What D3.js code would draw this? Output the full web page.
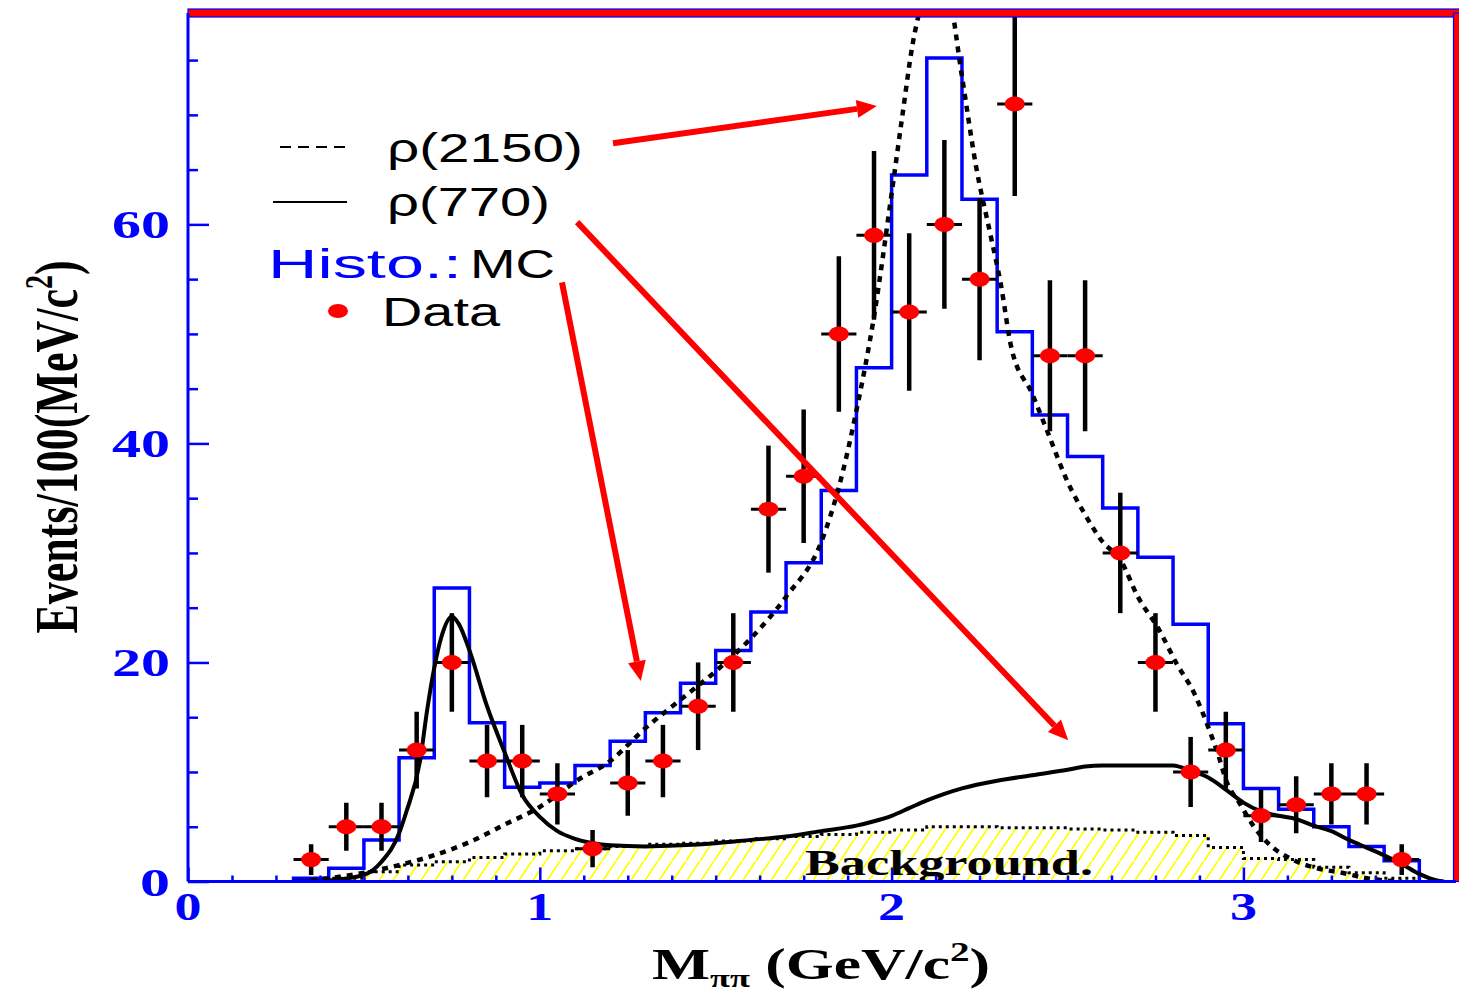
<!DOCTYPE html>
<html>
<head>
<meta charset="utf-8">
<script src="https://cdn.jsdelivr.net/npm/d3@7"></script>
<style>
  html, body { margin: 0; padding: 0; background: #fff; }
  svg { display: block; }
</style>
</head>
<body>
<div id="chart"></div>
<script>
// ---- data ----
// data points (bin centres, events, error)
const dataMass = [0.35, 0.45, 0.55, 0.65, 0.75, 0.85, 0.95, 1.05, 1.15, 1.25, 1.35, 1.45, 1.55, 1.65, 1.75, 1.85,
                  1.95, 2.05, 2.15, 2.25, 2.35, 2.45, 2.55, 2.65, 2.75, 2.85, 2.95, 3.05, 3.15, 3.25, 3.35, 3.45];
const dataEvents = [2, 5, 5, 12, 20, 11, 11, 8, 3, 9, 11, 16, 20, 34, 37, 50,
                    59, 52, 60, 55, 71, 48, 48, 30, 20, 10, 12, 6, 7, 8, 8, 2];
const dataErr = [1.4, 2.2, 2.2, 3.5, 4.5, 3.3, 3.3, 2.8, 1.7, 3.0, 3.3, 4.0, 4.5, 5.8, 6.1, 7.1,
                 7.7, 7.2, 7.7, 7.4, 8.4, 6.9, 6.9, 5.5, 4.5, 3.2, 3.5, 2.4, 2.6, 2.8, 2.8, 1.4];

// histogram bin edges (MC and background share them)
const binEdges = [0.3, 0.4, 0.5, 0.6, 0.7, 0.8, 0.9, 1.0, 1.1, 1.2, 1.3, 1.4, 1.5, 1.6, 1.7, 1.8, 1.9,
                  2.0, 2.1, 2.2, 2.3, 2.4, 2.5, 2.6, 2.7, 2.8, 2.9, 3.0, 3.1, 3.2, 3.3, 3.4, 3.5];
const mcCounts = [0.3, 1.2, 3.8, 11.3, 26.8, 14.5, 8.6, 9.0, 10.6, 12.8, 15.4, 18.1, 21.1, 24.6, 29.1, 35.7,
                  46.9, 64.5, 75.2, 62.3, 50.2, 42.6, 38.8, 34.1, 29.6, 23.5, 14.4, 8.5, 6.6, 5.0, 3.2, 1.9];
const bgCounts = [0, 0.3, 0.9, 1.5, 1.8, 2.2, 2.5, 2.8, 3.0, 3.2, 3.4, 3.5, 3.7, 3.9, 4.1, 4.3,
                  4.5, 4.7, 5.0, 5.0, 4.9, 4.9, 4.8, 4.7, 4.5, 4.2, 3.1, 2.1, 2.0, 1.3, 0.8, 0.3];

// rho(2150) dashed curve
const rho2150X = [0.35, 0.4, 0.5, 0.6, 0.7, 0.8, 0.9, 1.0, 1.05, 1.1, 1.2, 1.3, 1.4, 1.5, 1.6, 1.7, 1.8, 1.85,
                  1.9, 1.95, 2.0, 2.03, 2.06, 2.1, 2.13, 2.16, 2.2, 2.24, 2.28, 2.31, 2.34, 2.4, 2.45, 2.5,
                  2.55, 2.6, 2.65, 2.7, 2.76, 2.81, 2.86, 2.9, 2.93, 2.95, 2.99, 3.03, 3.08, 3.14, 3.21, 3.28, 3.35, 3.45];
const rho2150Y = [0.1, 0.3, 0.8, 1.5, 2.4, 3.6, 5.2, 6.8, 7.9, 9.1, 11.0, 14.0, 16.6, 19.2, 22.2, 26.0, 31.0, 36.0,
                  43.0, 51.6, 62.8, 69.8, 76.5, 81.5, 83.0, 81.5, 73.5, 65.3, 59.2, 54.6, 48.8, 44.5, 40.5, 36.5,
                  33.5, 31.0, 29.4, 26.0, 23.0, 19.9, 17.2, 14.1, 11.4, 9.3, 7.1, 5.0, 3.2, 2.0, 1.2, 0.8, 0.3, 0];

// rho(770) solid curve
const rho770X = [0.3, 0.4, 0.5, 0.55, 0.6, 0.62, 0.66, 0.68, 0.7, 0.72, 0.75, 0.77, 0.8, 0.85, 0.9, 0.95, 1.0,
                 1.05, 1.1, 1.15, 1.2, 1.3, 1.4, 1.5, 1.6, 1.7, 1.8, 1.9, 1.95, 2.0, 2.05, 2.1, 2.15, 2.2, 2.3,
                 2.4, 2.5, 2.55, 2.6, 2.7, 2.8, 2.85, 2.9, 2.95, 3.0, 3.05, 3.1, 3.15, 3.2, 3.25, 3.3, 3.35,
                 3.4, 3.45, 3.5, 3.55, 3.57];
const rho770Y = [0, 0.1, 0.6, 1.8, 4.4, 6.3, 11.1, 15.7, 19.5, 22.3, 24.2, 23.5, 21.1, 16.0, 11.8, 7.9, 5.9,
                 4.6, 3.9, 3.5, 3.3, 3.2, 3.3, 3.5, 3.8, 4.1, 4.6, 5.1, 5.5, 6.0, 6.7, 7.4, 8.0, 8.5, 9.2,
                 9.7, 10.2, 10.5, 10.6, 10.6, 10.6, 10.1, 9.5, 8.4, 7.2, 6.4, 6.0, 5.7, 5.1, 4.6, 3.8, 3.1,
                 2.4, 1.6, 0.7, 0.1, 0];

// axis ticks
const xTickLabels = [0, 1, 2, 3];
const yTickLabels = [0, 20, 40, 60];

// red annotation arrows, [x1, y1, x2, y2] in data units
const arrows = [
  [1.208, 67.4, 1.958, 70.8],
  [1.106, 60.2, 2.502, 12.9],
  [1.063, 54.7, 1.287, 18.3]
];

// ---- drawing ----
const width = 1459, height = 996;
const x = d3.scaleLinear().domain([0, 3.6]).range([188, 1454.5]);
const y = d3.scaleLinear().domain([0, 79.3]).range([881.5, 13]);

const svg = d3.select("#chart").append("svg")
  .attr("width", width)
  .attr("height", height)
  .style("background", "#fff");

const defs = svg.append("defs");
defs.append("clipPath").attr("id", "plot-clip")
  .append("rect")
  .attr("x", x(0)).attr("y", y(79.3))
  .attr("width", x(3.6) - x(0)).attr("height", y(0) - y(79.3));

// yellow hatch
const hatch = defs.append("pattern")
  .attr("id", "hatch")
  .attr("patternUnits", "userSpaceOnUse")
  .attr("width", 14).attr("height", 21);
hatch.append("path")
  .attr("d", "M-7,31.5 L21,-10.5")
  .attr("stroke", "#ffff00")
  .attr("stroke-width", 1.8);

const plot = svg.append("g").attr("clip-path", "url(#plot-clip)");

// step histogram points
function stepPoints(edges, counts) {
  const pts = [[edges[0], 0]];
  counts.forEach((c, i) => pts.push([edges[i], c]));
  pts.push([edges[edges.length - 1], counts[counts.length - 1]]);
  pts.push([edges[edges.length - 1], 0]);
  return pts;
}

const stepLine = d3.line()
  .x(d => x(d[0])).y(d => y(d[1]))
  .curve(d3.curveStepAfter);

const bgPts = stepPoints(binEdges, bgCounts);

// background hatch + dotted outline
plot.append("path")
  .datum(bgPts)
  .attr("d", d3.area().x(d => x(d[0])).y0(y(0)).y1(d => y(d[1])).curve(d3.curveStepAfter))
  .attr("fill", "url(#hatch)");

plot.append("path")
  .datum(bgPts.slice(1, -1))
  .attr("d", stepLine)
  .attr("fill", "none")
  .attr("stroke", "#000")
  .attr("stroke-width", 3)
  .attr("stroke-dasharray", "3,4");

svg.append("text")
  .attr("x", 805).attr("y", 875)
  .attr("textLength", 288).attr("lengthAdjust", "spacingAndGlyphs")
  .style("font-family", "'Liberation Serif', 'DejaVu Serif', serif")
  .style("font-weight", "bold")
  .style("font-size", "36px")
  .text("Background.");

// MC histogram
plot.append("path")
  .datum(stepPoints(binEdges, mcCounts))
  .attr("d", stepLine)
  .attr("fill", "none")
  .attr("stroke", "#0000ff")
  .attr("stroke-width", 3.5);

const smooth = d3.line()
  .x(d => x(d[0])).y(d => y(d[1]))
  .curve(d3.curveMonotoneX);

// rho(2150)
plot.append("path")
  .datum(rho2150X.map((v, i) => [v, rho2150Y[i]]))
  .attr("d", smooth)
  .attr("fill", "none")
  .attr("stroke", "#000")
  .attr("stroke-width", 4.5)
  .attr("stroke-dasharray", "6,6");

// rho(770)
plot.append("path")
  .datum(rho770X.map((v, i) => [v, rho770Y[i]]))
  .attr("d", smooth)
  .attr("fill", "none")
  .attr("stroke", "#000")
  .attr("stroke-width", 4);

// data with errors
const pts = dataMass.map((m, i) => ({ m, n: dataEvents[i], e: dataErr[i] }));
const pg = plot.append("g");
pg.selectAll("line.ey").data(pts).join("line")
  .attr("class", "ey")
  .attr("x1", d => x(d.m)).attr("x2", d => x(d.m))
  .attr("y1", d => y(d.n - d.e)).attr("y2", d => y(d.n + d.e))
  .attr("stroke", "#000").attr("stroke-width", 4.5);
pg.selectAll("line.ex").data(pts).join("line")
  .attr("class", "ex")
  .attr("x1", d => x(d.m - 0.05)).attr("x2", d => x(d.m + 0.05))
  .attr("y1", d => y(d.n)).attr("y2", d => y(d.n))
  .attr("stroke", "#000").attr("stroke-width", 3);
pg.selectAll("ellipse").data(pts).join("ellipse")
  .attr("cx", d => x(d.m)).attr("cy", d => y(d.n))
  .attr("rx", 10).attr("ry", 7.5)
  .attr("fill", "#ff0000");

// arrows
const ag = svg.append("g");
arrows.forEach(a => {
  const x1 = x(a[0]), y1 = y(a[1]), x2 = x(a[2]), y2 = y(a[3]);
  const ang = Math.atan2(y2 - y1, x2 - x1);
  const hl = 20, hw = 9;
  const bx = x2 - hl * Math.cos(ang), by = y2 - hl * Math.sin(ang);
  ag.append("line")
    .attr("x1", x1).attr("y1", y1).attr("x2", bx).attr("y2", by)
    .attr("stroke", "#ff0000").attr("stroke-width", 6);
  ag.append("path")
    .attr("d", `M${x2},${y2} L${bx + hw * Math.sin(ang)},${by - hw * Math.cos(ang)} L${bx - hw * Math.sin(ang)},${by + hw * Math.cos(ang)} Z`)
    .attr("fill", "#ff0000");
});

// legend
const sans = "'Liberation Sans', Arial, Helvetica, sans-serif";
const lg = svg.append("g").style("font-family", sans).style("font-size", "40px");
lg.append("line").attr("x1", 280).attr("x2", 347).attr("y1", 147).attr("y2", 147)
  .attr("stroke", "#000").attr("stroke-width", 2).attr("stroke-dasharray", "11,7");
lg.append("text").attr("x", 387).attr("y", 162)
  .attr("textLength", 196).attr("lengthAdjust", "spacingAndGlyphs").text("ρ(2150)");
lg.append("line").attr("x1", 273).attr("x2", 347).attr("y1", 202).attr("y2", 202)
  .attr("stroke", "#000").attr("stroke-width", 2);
lg.append("text").attr("x", 387).attr("y", 216)
  .attr("textLength", 163).attr("lengthAdjust", "spacingAndGlyphs").text("ρ(770)");
lg.append("text").attr("x", 268).attr("y", 278).attr("fill", "#0000ff")
  .attr("textLength", 194).attr("lengthAdjust", "spacingAndGlyphs").text("Histo.:");
lg.append("text").attr("x", 470).attr("y", 278)
  .attr("textLength", 85).attr("lengthAdjust", "spacingAndGlyphs").text("MC");
lg.append("ellipse").attr("cx", 338).attr("cy", 311).attr("rx", 10).attr("ry", 7)
  .attr("fill", "#ff0000");
lg.append("text").attr("x", 382).attr("y", 326)
  .attr("textLength", 118).attr("lengthAdjust", "spacingAndGlyphs").text("Data");

// frame and axes
const blue = "#0000ff";
svg.append("rect")
  .attr("x", x(0)).attr("y", 9).attr("width", 1461 - x(0)).attr("height", 8)
  .attr("fill", "#ff0000").attr("stroke", blue).attr("stroke-width", 1.2);
svg.append("rect")
  .attr("x", 1453.5).attr("y", 13).attr("width", 8).attr("height", y(0) - 13)
  .attr("fill", "#ff0000").attr("stroke", blue).attr("stroke-width", 1.2);

const yAxis = d3.axisRight(y)
  .tickValues(d3.range(0, 79, 5))
  .tickSize(10).tickFormat("");
const yAx = svg.append("g").attr("transform", `translate(${x(0)},0)`).call(yAxis);
yAx.selectAll(".tick line").attr("x2", d => d % 20 === 0 ? 21 : 10);

const xAxis = d3.axisTop(x)
  .tickValues(d3.range(0, 3.6, 0.125))
  .tickSize(6).tickFormat("");
const xAx = svg.append("g").attr("transform", `translate(0,${y(0)})`).call(xAxis);
xAx.selectAll(".tick line").attr("y2", d => Math.abs(d - Math.round(d)) < 1e-6 ? -14 : -6);

[yAx, xAx].forEach(g => {
  g.selectAll("line").attr("stroke", blue).attr("stroke-width", 2.5);
  g.select(".domain").remove();
});
svg.append("line").attr("x1", x(0)).attr("x2", x(0)).attr("y1", 13).attr("y2", y(0))
  .attr("stroke", blue).attr("stroke-width", 3);
svg.append("line").attr("x1", x(0)).attr("x2", 1456).attr("y1", y(0)).attr("y2", y(0))
  .attr("stroke", blue).attr("stroke-width", 3);

// tick labels
const serif = "'Liberation Serif', 'DejaVu Serif', 'Times New Roman', serif";
svg.append("g").selectAll("text").data(yTickLabels).join("text")
  .attr("x", 170).attr("y", d => y(d) + 14)
  .attr("text-anchor", "end")
  .attr("textLength", d => d === 0 ? 30 : 58).attr("lengthAdjust", "spacingAndGlyphs")
  .attr("fill", blue)
  .style("font-family", serif).style("font-weight", "bold").style("font-size", "40px")
  .text(d => d);
svg.append("g").selectAll("text").data(xTickLabels).join("text")
  .attr("x", d => x(d)).attr("y", 920)
  .attr("text-anchor", "middle")
  .attr("textLength", 27).attr("lengthAdjust", "spacingAndGlyphs")
  .attr("fill", blue)
  .style("font-family", serif).style("font-weight", "bold").style("font-size", "40px")
  .text(d => d);

// axis titles (stretched horizontally like the original)
const xt = svg.append("g").attr("transform", "translate(821,979) scale(1.4,1)")
  .append("text")
  .attr("text-anchor", "middle")
  .style("font-family", serif).style("font-weight", "bold").style("font-size", "44px");
xt.append("tspan").text("M");
xt.append("tspan").attr("dy", 8).style("font-size", "26px").text("ππ");
xt.append("tspan").attr("dy", -8).text(" (GeV/c");
xt.append("tspan").attr("dy", -18).style("font-size", "28px").text("2");
xt.append("tspan").attr("dy", 18).text(")");

const yt = svg.append("g").attr("transform", "translate(77,447) scale(1.4,1) rotate(-90)")
  .append("text")
  .attr("text-anchor", "middle")
  .style("font-family", serif).style("font-weight", "bold").style("font-size", "44px");
yt.append("tspan").text("Events/100(MeV/c");
yt.append("tspan").attr("dy", -18).style("font-size", "28px").text("2");
yt.append("tspan").attr("dy", 18).text(")");
</script>
</body>
</html>
